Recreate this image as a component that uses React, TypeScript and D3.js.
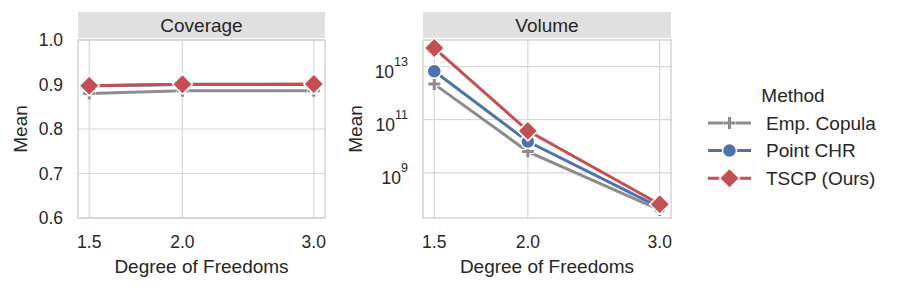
import React from "react";
import * as d3 from "d3";

// data
const dof = [1.5, 2.0, 3.0];
const methods = ["Emp. Copula", "Point CHR", "TSCP (Ours)"];
const coverageCopula = [0.88, 0.886, 0.886];
const coverageCHR = [0.897, 0.9, 0.9];
const coverageTSCP = [0.897, 0.9005, 0.901];
const volumeCopula = [2.2e12, 6.3e9, 4e7];
const volumeCHR = [6.7e12, 1.5e10, 5e7];
const volumeTSCP = [5e13, 3.8e10, 6.5e7];
const coverageTicks = [0.6, 0.7, 0.8, 0.9, 1.0];
const volumeTicks = [1e9, 1e11, 1e13];

const colors = ["#8c8c8c", "#4c72b0", "#c44e52"];
const markers = ["plus", "circle", "diamond"];
const FONT = "'Liberation Sans', Arial, sans-serif";
const TXT = "#262626";
const GRID = "#d6d6d6";

const top = 40;
const bottom = 218;

// log axis with 5% margins like matplotlib
function logPadded(vals: number[], pad = 0.05) {
  const lo = Math.log10(d3.min(vals)!);
  const hi = Math.log10(d3.max(vals)!);
  const m = (hi - lo) * pad;
  return [Math.pow(10, lo - m), Math.pow(10, hi + m)];
}

function Marker({ kind, x, y, color }: { kind: string; x: number; y: number; color: string }) {
  if (kind === "plus") {
    return (
      <g>
        <path d={`M${x - 6.5},${y}H${x + 6.5}M${x},${y - 6.5}V${y + 6.5}`} stroke="white" strokeWidth={5} />
        <path d={`M${x - 6},${y}H${x + 6}M${x},${y - 6}V${y + 6}`} stroke={color} strokeWidth={3} />
      </g>
    );
  }
  if (kind === "circle") {
    return <circle cx={x} cy={y} r={7} fill={color} stroke="white" strokeWidth={1.5} />;
  }
  const s = 10;
  return (
    <path
      d={`M${x},${y - s}L${x + s},${y}L${x},${y + s}L${x - s},${y}Z`}
      fill={color}
      stroke="white"
      strokeWidth={1.5}
    />
  );
}

function Panel({
  left,
  right,
  title,
  series,
  y,
  yTicks,
  fmt,
  ylabelX,
}: {
  left: number;
  right: number;
  title: string;
  series: number[][];
  y: any;
  yTicks: number[];
  fmt: (v: number) => React.ReactNode;
  ylabelX: number;
}) {
  const x = d3.scaleLog().domain(logPadded(dof)).range([left, right]);
  const line = d3
    .line<number>()
    .x((_, i) => x(dof[i]))
    .y((v) => y(v));
  return (
    <g>
      <rect x={left} y={12} width={right - left} height={26} fill="#e0e0e0" />
      <text x={(left + right) / 2} y={25} textAnchor="middle" dominantBaseline="central" fontSize={19} fill={TXT}>
        {title}
      </text>
      {dof.map((d) => (
        <line key={d} x1={x(d)} x2={x(d)} y1={top} y2={bottom} stroke={GRID} strokeWidth={1.2} />
      ))}
      {yTicks.map((t) => (
        <line key={t} x1={left} x2={right} y1={y(t)} y2={y(t)} stroke={GRID} strokeWidth={1.2} />
      ))}
      <rect x={left} y={top} width={right - left} height={bottom - top} fill="none" stroke="#cccccc" strokeWidth={1.3} />
      {series.map((vals, si) => (
        <g key={si}>
          <path d={line(vals)!} fill="none" stroke={colors[si]} strokeWidth={3} />
          {vals.map((v, i) => (
            <Marker key={i} kind={markers[si]} x={x(dof[i])} y={y(v)} color={colors[si]} />
          ))}
        </g>
      ))}
      {yTicks.map((t) => (
        <g key={t} transform={`translate(${left - 15},${y(t)})`}>
          {fmt(t)}
        </g>
      ))}
      {dof.map((d) => (
        <text key={d} x={x(d)} y={242} textAnchor="middle" dominantBaseline="central" fontSize={17.5} fill={TXT}>
          {d.toFixed(1)}
        </text>
      ))}
      <text x={(left + right) / 2} y={266} textAnchor="middle" dominantBaseline="central" fontSize={19} fill={TXT}>
        Degree of Freedoms
      </text>
      <text
        transform={`translate(${ylabelX},${(top + bottom) / 2}) rotate(-90)`}
        textAnchor="middle"
        dominantBaseline="central"
        fontSize={19}
        fill={TXT}
      >
        Mean
      </text>
    </g>
  );
}

export default function App() {
  const yCov = d3.scaleLinear().domain([0.6, 1.0]).range([bottom, top]);
  const yVol = d3
    .scaleLog()
    .domain(logPadded([...volumeCopula, ...volumeCHR, ...volumeTSCP]))
    .range([bottom, top]);

  const covFmt = (v: number) => (
    <text textAnchor="end" dominantBaseline="central" fontSize={17.5} fill={TXT}>
      {v.toFixed(1)}
    </text>
  );
  const volFmt = (v: number) => (
    <text textAnchor="end" fontSize={17.5} fill={TXT} y={11}>
      10
      <tspan fontSize={12.5} dy={-12}>
        {Math.round(Math.log10(v))}
      </tspan>
    </text>
  );

  return (
    <svg
      width={898}
      height={288}
      style={{ position: "absolute", left: 0, top: 0, background: "white" }}
      fontFamily={FONT}
    >
      <Panel
        left={78}
        right={325}
        title="Coverage"
        series={[coverageCopula, coverageCHR, coverageTSCP]}
        y={yCov}
        yTicks={coverageTicks}
        fmt={covFmt}
        ylabelX={20}
      />
      <Panel
        left={423}
        right={671}
        title="Volume"
        series={[volumeCopula, volumeCHR, volumeTSCP]}
        y={yVol}
        yTicks={volumeTicks}
        fmt={volFmt}
        ylabelX={355}
      />
      <g>
        <text x={793} y={95} textAnchor="middle" dominantBaseline="central" fontSize={19} fill={TXT}>
          Method
        </text>
        {methods.map((m, i) => {
          const yy = 123 + i * 27.6;
          return (
            <g key={m}>
              <line x1={708} x2={751} y1={yy} y2={yy} stroke={colors[i]} strokeWidth={3} />
              <Marker kind={markers[i]} x={729.5} y={yy} color={colors[i]} />
              <text x={766} y={yy} dominantBaseline="central" fontSize={19} fill={TXT}>
                {m}
              </text>
            </g>
          );
        })}
      </g>
    </svg>
  );
}
